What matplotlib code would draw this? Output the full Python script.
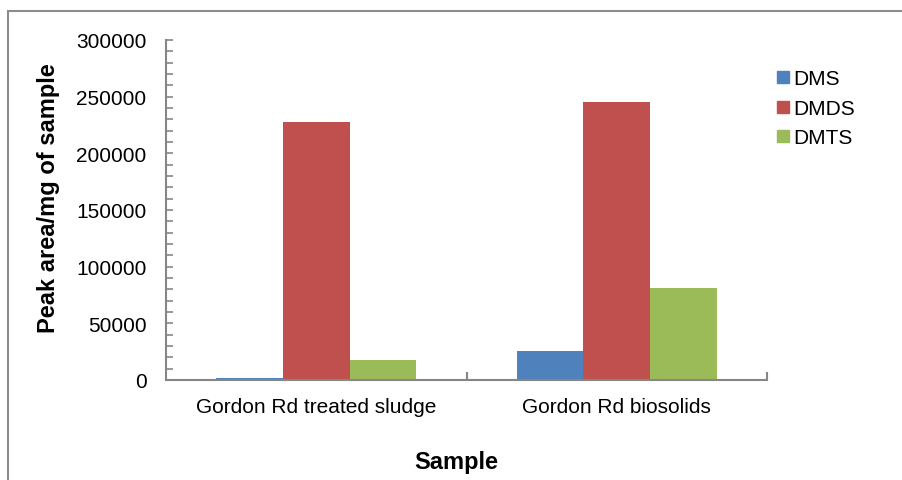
import numpy as np
import matplotlib.pyplot as plt
from matplotlib.lines import Line2D
from matplotlib.patches import Rectangle
from matplotlib.ticker import MultipleLocator

plt.rcParams['font.family'] = ['Liberation Sans', 'DejaVu Sans']

samples = ['Gordon Rd treated sludge', 'Gordon Rd biosolids']
compounds = ['DMS', 'DMDS', 'DMTS']
dms = [1800, 26000]
dmds = [228000, 245000]
dmts = [18000, 81000]
colors = ['#4F81BD', '#C0504D', '#9BBB59']

W, H = 903, 481
fig = plt.figure(figsize=(W / 100, H / 100), dpi=100)
ax = fig.add_axes([166 / W, (H - 381) / H, 601 / W, 340 / H])

# outer chart frame
fig.patches.append(Rectangle((8 / W, -0.1), 1.2, (H - 12) / H + 0.1,
                             transform=fig.transFigure, fill=False,
                             edgecolor='#8c8c8c', linewidth=1.5))

x = np.arange(len(samples))
width = 1 / 4.5
for i, (vals, c) in enumerate(zip([dms, dmds, dmts], colors)):
    ax.bar(x + (i - 1) * width, vals, width=width, color=c, label=compounds[i])

ax.set_xlim(-0.5, 1.5)
ax.set_ylim(0, 300000)
ax.yaxis.set_major_locator(MultipleLocator(50000))
ax.yaxis.set_minor_locator(MultipleLocator(10000))
ax.set_xticks([0.5, 1.5], minor=True)
ax.set_xticks(x)
ax.set_xticklabels(samples)

for s in ['top', 'right']:
    ax.spines[s].set_visible(False)
for s in ['left', 'bottom']:
    ax.spines[s].set_color('#868686')
    ax.spines[s].set_linewidth(1.5)

ax.tick_params(axis='y', which='both', direction='in', length=5, width=1.2,
               color='#868686', labelsize=15, pad=14)
ax.tick_params(axis='x', which='major', length=0, labelsize=15, pad=12)
ax.tick_params(axis='x', which='minor', direction='in', length=6, width=1.5,
               color='#868686')

fig.text(49 / W, 1 - 198 / H, 'Peak area/mg of sample', rotation=90,
         ha='center', va='center', fontsize=17, fontweight='bold')
fig.text(456 / W, 1 - 462 / H, 'Sample', ha='center', va='center',
         fontsize=17, fontweight='bold')

handles = [Line2D([], [], marker='s', linestyle='none', markersize=8,
                  markerfacecolor=c, markeredgecolor=c) for c in colors]
fig.legend(handles, compounds, loc='upper left',
           bbox_to_anchor=(766 / W, 1 - 60 / H), frameon=False,
           fontsize=15, handlelength=0.6, handletextpad=0.2,
           labelspacing=0.5, borderpad=0)

fig.savefig('out.png', dpi=100)
